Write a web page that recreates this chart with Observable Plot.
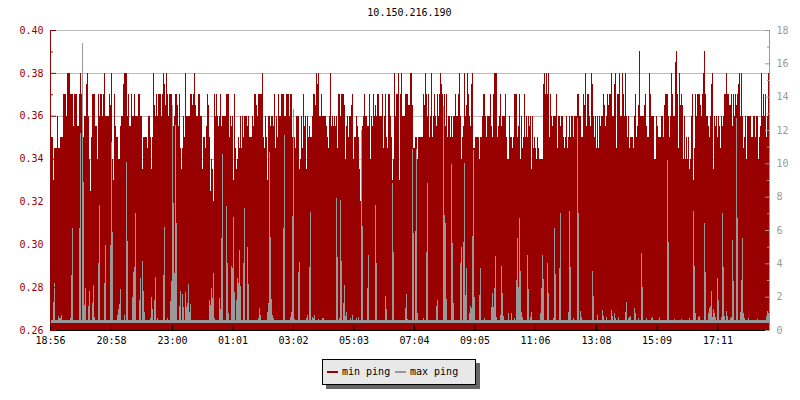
<!DOCTYPE html>
<html><head><meta charset="utf-8">
<script src="https://cdn.jsdelivr.net/npm/d3@7"></script>
<script src="https://cdn.jsdelivr.net/npm/@observablehq/plot@0.6"></script>
<style>
html,body{margin:0;padding:0;background:#fff}
#wrap{position:relative;width:800px;height:400px;overflow:hidden;font:10px "DejaVu Sans Mono",monospace}
#title{position:absolute;left:0;width:819px;top:6px;text-align:center;color:#000;line-height:13px}
#legend{position:absolute;left:322px;top:359px;width:152px;height:24px;background:#e8e8e8;border:1px solid #000;box-shadow:4px 4px 0 #666;box-sizing:content-box}
#legend span{position:absolute;top:5px;line-height:13px;color:#000}
#legend i{position:absolute;top:11px;height:2px;width:11px}
svg{position:absolute;left:0;top:0}
</style></head><body><div id="wrap">
<div id="title">10.150.216.190</div>
<div id="chart"></div>
<div id="legend"><i style="left:4px;background:#990000"></i><span style="left:19px">min ping</span><i style="left:72px;background:#999"></i><span style="left:87px">max ping</span></div>
</div>
<script>
// min ping, hundredths of a ms, as [sample column, value] — each value holds until the next column
const minSteps1=[51,35,53,33,54,34.5,57,36,58,34.5,60,35,63,37,66,36,67,38,70,37,73,35.5,74,37,77,35.5,79,37,80,38,81,37,82,35.5,83,35,84,36,86,37.5,87,38,88,36,89,34,90,32.5,91,35,92,37,95,35.5,97,34,98,37,99,36,100,37,102,36,103,37,104,38,105,36,109,37,110,36.5,111,38,112,34,113,33,114,37,115,35.5,116,35,118,34,120,35.5,121,36,123,37.5,124,38,127,36,128,37,129,35.5,131,37,132,36,134,37,135,36,138,37,140,36,142,33.5,143,35,147,34.5,148,36,150,35,151,33.5,152,35,153,38,154,36.5,155,36,156,37,157,36,158,37,161,36,162,37,163,38,164,37.5,165,36.5,166,38,167,37,168,36,169,37];
const minSteps2=[172,36,173,35.5,174,36,175,37,177,36.5,178,35.5,179,37,180,34.5,181,33.5,182,34.5,183,36,184,35,185,38,186,36,190,37,192,36.5,193,37,194,38,195,36.5,196,36,198,37,200,36,202,33.5,203,35,205,34.5,206,35.5,207,37,208,36.5,209,35,210,32.5,211,34,212,33.5,213,32,214,37,215,36,216,37,217,36,218,35.5,219,36,220,37,221,35.5,222,36,226,37,229,35,230,36,231,35.5,232,36,233,33,234,37,235,34.5,236,33.5,237,34,238,35,239,34.5,240,36,241,34.5,242,36,243,35,244,36,247,35.5,248,36,249,35,252,36,253,35.5,254,37,256,36.5,257,36,258,37,262,38,263,35,264,34.5,265,36,266,35,267,33,268,36,270,35.5,271,36,273,35.5,274,37,275,34.5,276,36,277,35,278,37,279,36,281,37,284,36,286,37,289,36];
const minSteps3=[290,37,292,35,293,36,294,35,295,34.5,296,36,299,33.5,300,34,301,36,302,34.5,303,37,304,35.5,305,36,306,33.5,307,36,308,35,309,35.5,310,35,312,36,313,37,315,36.5,316,38,317,37.5,318,38,319,36,321,37,322,36,326,35.5,327,35,328,34.5,329,36,330,38,331,35.5,332,36,333,35.5,334,36,335,35.5,336,36,337,34.5,338,37,340,36,341,37,344,36.5,345,34,346,35.5,347,36,348,35,349,36,351,36.5,352,37,353,34,354,35,356,36,357,35.5,358,35,359,33.5,360,32,361,35,362,35.5,363,36,364,37,365,36,367,35.5,369,37,370,34,371,36,372,35.5,373,37,374,36,375,36.5,376,36,377,37,379,36,382,37,383,34.5,384,36,385,37,386,35,387,34.5,388,37,390,36,391,35,392,33,393,34,394,38,395,36,396,37,398,38,399,33,400,37,401,38,402,36,405,37,408,36.5];
const minSteps4=[410,38,412,36.5,413,34.5,415,35,417,34,418,35,423,37,424,36.5,425,38,426,37,427,36,428,37,429,35,430,36,431,38,432,35,433,36,434,37,435,36,436,35.5,437,37,438,36,439,37,440,38,441,37.5,442,37,443,35,444,37,445,35.5,446,37,447,35,448,36,450,35,451,36,452,35,453,36,455,37,456,36,458,37,459,38,460,36,461,34,462,35,463,35.5,464,38,465,36,466,36.5,467,38,468,37,469,36,470,35.5,471,37.5,472,38,473,34.5,475,35,479,34,480,35,482,36,483,37,485,36,486,35,487,36,490,37,491,35.5,492,35,493,37,494,38,497,35,498,35.5,499,36,500,37,501,35.5,502,36,505,37,506,35,507,34,509,36,510,35,512,34.5,513,35,514,37,517,35,518,35.5,519,37,520,34,521,36,522,34.5,523,35,524,37,525,35,526,36,527,35,528,36,529,35.5];
const minSteps5=[530,36,531,33.5,532,36,533,34.5,534,35,535,34.5,536,34,537,35,538,34.5,539,34,543,37.5,544,38,545,37,546,38,547,37,548,38,549,35,550,37,551,36,552,35.5,553,36,556,37,557,34.5,558,36,560,35.5,561,36,563,35,564,34.5,565,35,566,36,567,34.5,568,35,569,36,570,35,571,36,573,35,574,36,577,37,579,36,581,35,583,37,584,36.5,585,38,586,35.5,587,37,589,36,590,35.5,591,38,592,37.5,593,36,594,35,595,36,596,34.5,597,36,598,34.5,599,36,600,35.5,601,36,603,37,604,36.5,605,35.5,606,36,607,37,608,36.5,609,37,611,38,612,36,614,37.5,615,38,616,34.5,617,37,619,38,620,36,622,38,623,37,624,36,625,38,626,36,627,35,628,36,629,34.5,630,35,633,34.5,634,36,635,37,636,35,637,35.5,638,36.5,639,39,640,36,644,36.5,645,37,646,35.5,647,35,649,38];
const minSteps6=[650,37,651,36,654,34,656,36,657,35.5,658,35,661,36,663,35,664,36.5,665,37,668,36,669,35,670,36,671,38,672,37,673,36,675,38.5,676,39,677,37,678,34.5,679,38,680,36.5,681,37,682,36.5,683,34,684,36,685,34,686,35,687,34,688,35,689,33.5,690,34,691,36,692,37,693,33,694,34.5,695,37,696,36,697,37,700,36.5,701,36,702,37,703,38,704,39,705,37,706,36,708,35.5,709,35,710,36,711,37.5,712,38,713,33.5,714,36,715,35.5,716,36,717,35,718,36,719,35.5,720,34.5,721,36,722,35.5,723,36,724,37,726,38,727,37,729,36.5,731,37,732,35.5,733,37,734,36,735,37,736,36.5,737,37,738,37.5,739,38,740,36,741,38,742,36,743,34.5,744,35,745,36,746,34,747,36,751,35,752,35,753,36,755,35,756,36,758,34,759,35,760,35.5,761,38,762,36,763,37,764,36,765,37,766,35,767,36,768,38];
// max ping (right axis), sample column and value; quiet columns sit at maxBase
const maxBase=0.62;
const maxCols=[53,54,58,59,60,61,70,71,72,79,80,82,83,84,85,88,89,92,93,94,98,99,104,105,110,111,112,117,118,119,120,124,126,127,132,133,134,135,139,140,142,143,144,150,151,152,154,155,157,163,164,167,170,171,172,173,174,175,176,179,180,182,183,185,186,187,188,189,190,209,210,211,212,213,214,219,220,221,222,226,227,228,231,232,233,234,236,237,238,239,240,243,244,247,248,258,259,260,267,268,269,270,271,272,273,283,284,290,291,292,293,294,298,299,306,307,309,310,312,313,314,318,322,323,336,337,339,340,341,343,344,345,346,350,352,356,358,361,362,367,368,375,376,385,386,392,393,405,406,407,412,413,415,416,417,423,426,427,436,437,443,444,445,446,451,452,453,460,461,463,464,465,466,469,470,471,472,473,474,479,480,484,491,492,493,494,495,496,500,501,502,503,508,511,514,516,517,518,519,520,521,522,527,528,530,531,540,541,542,543,547,548,553,554,555,559,560,568,569,570,573,577,578,580,581,592,593,597,602,603,606,611,612,614,615,618,625,626,628,629,630,634,635,638,641,642,646,651,652,659,667,668,674,681,689,693,694,695,698,699,704,705,708,709,710,711,712,713,714,715,717,718,721,722,723,724,726,727,730,731,732,733,736,737,740,741,742,743,744,748,757,766,767,768];
const maxVals=[1.7,2.8,0.85,0.7,0.75,0.9,0.75,3.3,6.1,6.1,11.8,17.2,8.9,1.5,2.5,1.45,2.35,1.65,2.7,0.8,4,7.5,2.85,5.1,5.1,11.3,5.9,0.9,1.25,1.55,2.45,0.9,10.1,5.35,2,3.5,3.8,7,1.8,3.1,4.15,2.35,1.1,0.75,2,1.25,1.8,3.2,0.7,3.3,6.2,0.75,1.75,2.95,13.5,7.6,3.4,12.3,6.4,1.45,2.35,2.15,1.4,2.3,1.4,1.6,2.75,1.1,1.55,1.8,1.5,2.55,1.95,3.4,0.7,1.95,1.25,5.55,10.55,7.45,4,1,3.85,3.7,6.8,2.3,1.8,3.15,2.85,4.8,2.65,4,7.3,5,2.75,0.7,1.3,0.9,1.1,1.6,10.7,5.6,1.85,0.9,0.7,6.1,11.7,0.8,1.1,6.85,13.25,0.65,3.5,4.1,0.75,0.9,3.8,7.1,0.8,0.7,0.9,0.65,0.7,0.75,7.95,4.4,0.7,7.8,4.15,1.6,2.7,0.85,1.1,0.7,0.9,0.75,0.8,12,6.25,2.5,4.5,7.5,4,2.05,1.25,8.85,4.7,1.3,2.15,0.65,10.85,5.8,5.95,10.85,1,0.7,4.7,8.85,1.45,1.8,13.45,6.9,6.45,1.85,9.95,5.25,1.6,4,5,5.3,10.05,2.1,3.7,1,1.45,1.3,5.65,10.8,2,2.1,3.7,0.7,1.4,2.2,1.4,2.5,4.45,0.8,0.9,3.85,2.2,0.85,1,1,0.7,3,5.5,2.6,6.7,3.55,1.1,0.8,4.5,2.45,0.8,1.1,1,2.5,4.5,3.05,4,2.2,0.7,6.15,3.35,3.75,7.05,1.1,7.15,3.8,0.7,12.7,7,1.15,0.8,3.55,2.05,0.9,1.2,0.85,0.8,1.2,0.85,1,0.7,0.8,1.1,1.7,0.7,0.8,0.85,1.3,1,0.7,4.65,2.6,0.7,0.7,0.8,0.8,10.2,5.3,0.65,0.65,0.7,7.15,3.85,1,0.8,0.85,6.45,3.5,1,1.3,1.45,2.35,0.8,1.25,1,0.8,3.15,1.8,0.8,7.05,3.8,0.85,1.15,0.85,0.7,0.8,5.4,2.95,12.75,6.7,1.1,3,5.55,1,0.7,0.7,0.65,0.85,1.15,1];
const maxFloor=0.45;
// x axis
const tickMinutes=[0,122,244,365,486,607,728,849,970,1092,1213,1335];
const tickLabels=["18:56","20:58","23:00","01:01","03:02","05:03","07:04","09:05","11:06","13:08","15:09","17:11"];
const leftMajor=[0.26,0.28,0.30,0.32,0.34,0.36,0.38,0.40];
const leftMinor=[0.27,0.29,0.31,0.33,0.35,0.37,0.39];
const gridLines=[0.28,0.30,0.32,0.34,0.36,0.38,0.40];
const rightMajor=[0,2,4,6,8,10,12,14,16,18];
const rightMinor=[1,3,5,7,9,11,13,15,17];

const toLeft=v=>0.26+v*(0.14/18);
const steps=[...minSteps1,...minSteps2,...minSteps3,...minSteps4,...minSteps5,...minSteps6];
const maxByCol=new Map(maxCols.map((c,i)=>[c,maxVals[i]]));
const rows=[];
for(let k=0;k<steps.length;k+=2){
  const end=k+2<steps.length?steps[k+2]:steps[k]+1;
  for(let c=steps[k];c<end;c++){
    rows.push({t:(c-50)*2,min:steps[k+1]/100,max:maxByCol.has(c)?Math.max(maxByCol.get(c),maxBase):maxBase});
  }
}
const RED="#990000",GREY="#999999";
const noText=()=>"";
const chart=Plot.plot({
  width:800,height:400,marginLeft:50,marginRight:31,marginTop:30,marginBottom:70,
  style:{fontFamily:'"DejaVu Sans Mono",monospace',fontSize:"10px",background:"transparent"},
  x:{domain:[0,1438],range:[50,769]},
  y:{domain:[0.26,0.40],range:[330,30]},
  marks:[
    Plot.ruleY(gridLines,{stroke:"#bbbbbb",strokeWidth:1,shapeRendering:"crispEdges"}),
    Plot.ruleX(rows,{x:"t",y1:0.26,y2:"min",stroke:RED,strokeWidth:1,shapeRendering:"crispEdges"}),
    Plot.ruleX(rows,{x:"t",y1:toLeft(maxFloor),y2:d=>toLeft(d.max),stroke:GREY,strokeWidth:1,shapeRendering:"crispEdges"}),
    Plot.ruleX([0],{stroke:RED,strokeWidth:1,shapeRendering:"crispEdges"}),
    Plot.ruleX([1438],{stroke:GREY,strokeWidth:1,shapeRendering:"crispEdges"}),
    Plot.ruleY([0.26],{stroke:"#000",strokeWidth:1,shapeRendering:"crispEdges"}),
    Plot.axisY(leftMajor,{anchor:"left",label:null,tickSize:-6,tickPadding:13,stroke:RED,fill:RED,tickFormat:d3.format(".2f")}),
    Plot.axisY(leftMinor,{anchor:"left",label:null,tickSize:-3,stroke:RED,tickFormat:noText}),
    Plot.axisY(rightMajor.map(toLeft),{anchor:"right",label:null,tickSize:-5,tickPadding:12,stroke:GREY,fill:GREY,tickFormat:d=>String(Math.round((d-0.26)*18/0.14))}),
    Plot.axisY(rightMinor.map(toLeft),{anchor:"right",label:null,tickSize:-3,stroke:GREY,tickFormat:noText}),
    Plot.axisX(tickMinutes,{anchor:"bottom",label:null,tickSize:-5,tickPadding:11,stroke:"#000",fill:"#000",tickFormat:d=>tickLabels[tickMinutes.indexOf(d)]})
  ]
});
document.getElementById("chart").appendChild(chart);
</script></body></html>
